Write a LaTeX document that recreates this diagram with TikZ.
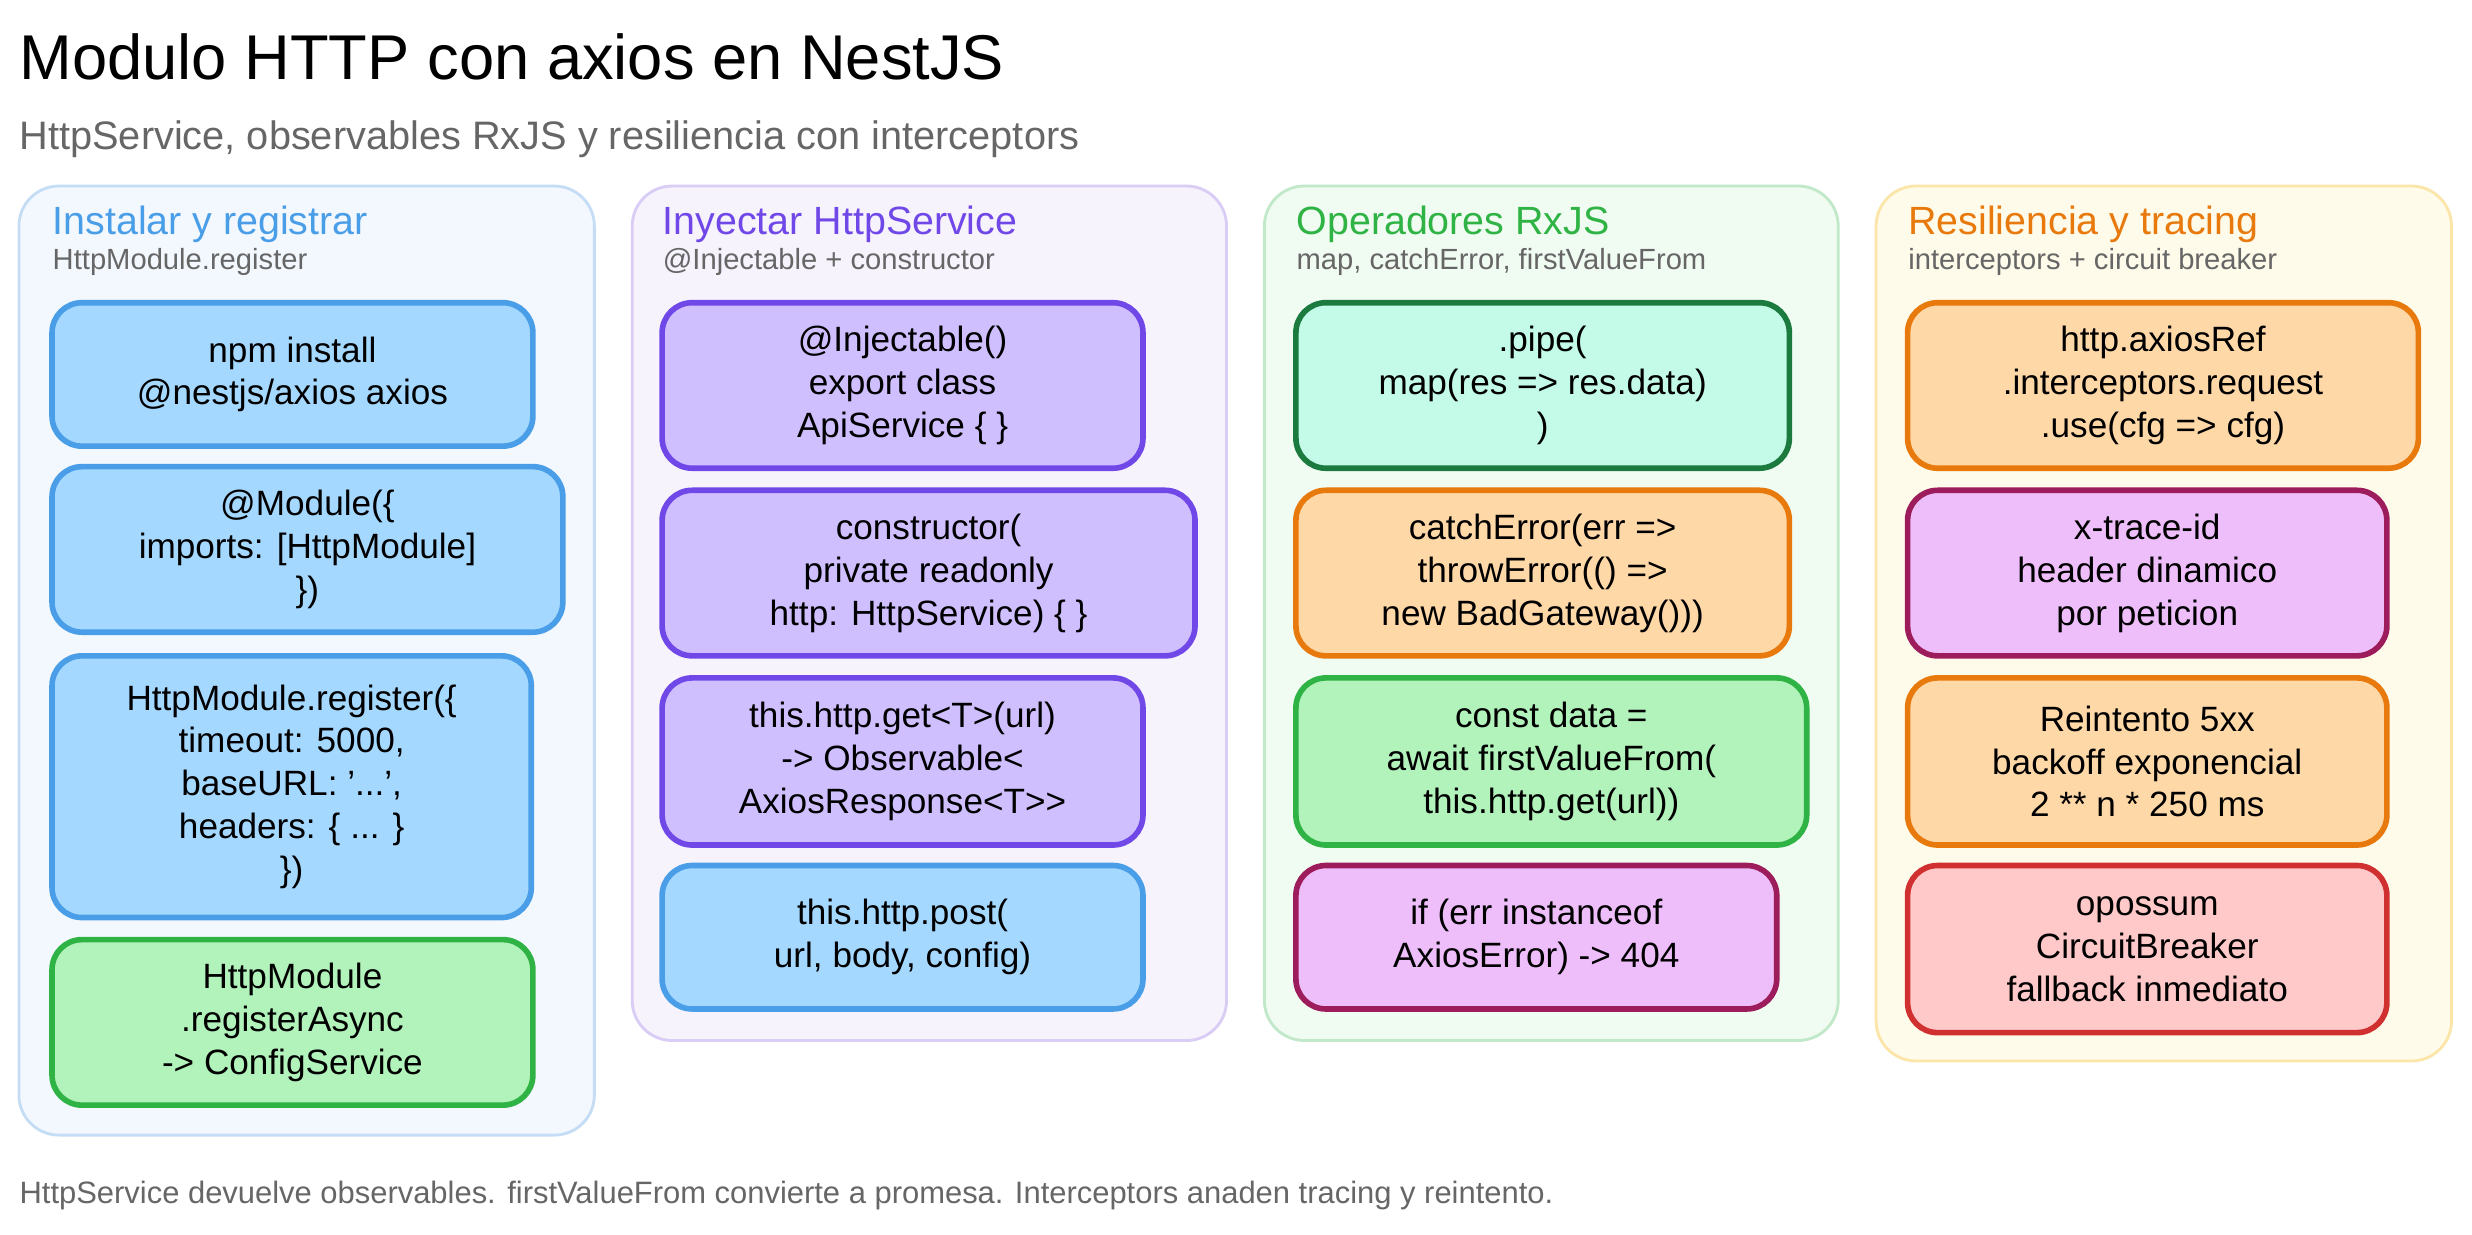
\documentclass[tikz,border=0pt]{standalone}
\usepackage{fontspec}
\setmainfont{Liberation Sans}
\usetikzlibrary{fit}

\definecolor{bluefill}{HTML}{A5D8FF}\definecolor{blueline}{HTML}{4A9EE8}
\definecolor{greenfill}{HTML}{B2F2BB}\definecolor{greenline}{HTML}{2FB344}
\definecolor{purplefill}{HTML}{D0BFFF}\definecolor{purpleline}{HTML}{7048E8}
\definecolor{tealfill}{HTML}{C3FAE8}\definecolor{tealline}{HTML}{1B7A3E}
\definecolor{orangefill}{HTML}{FFD8A8}\definecolor{orangeline}{HTML}{E8790C}
\definecolor{pinkfill}{HTML}{EEBEFA}\definecolor{pinkline}{HTML}{9C1C5C}
\definecolor{redfill}{HTML}{FFC9C9}\definecolor{redline}{HTML}{D03030}
\definecolor{graytext}{HTML}{666666}
\definecolor{panelblue}{HTML}{F3F8FF}\definecolor{panelblueline}{HTML}{C5DCF5}
\definecolor{panelviolet}{HTML}{F6F3FD}\definecolor{panelvioletline}{HTML}{D9CCF5}
\definecolor{panelgreen}{HTML}{F0FBF2}\definecolor{panelgreenline}{HTML}{C1E8C9}
\definecolor{panelyellow}{HTML}{FFFBEA}\definecolor{panelyellowline}{HTML}{FBE5A8}

\tikzset{
  card/.style 2 args={draw=#2, fill=#1, line width=1.6pt, rounded corners=0.3cm, inner sep=0pt},
  cardtext/.style={align=center, inner sep=0pt, font=\fontsize{10}{12.2}\selectfont},
  panel/.style 2 args={draw=#2, fill=#1, line width=0.8pt, rounded corners=0.4cm, inner sep=0pt},
  head/.style={anchor=west, inner sep=0pt, font=\fontsize{11.2}{13}\selectfont},
  sub/.style={anchor=west, inner sep=0pt, text=graytext, font=\fontsize{8.3}{10}\selectfont}
}
% \card{name}{fill}{line}{corner a}{corner b}{text}
\newcommand\card[6]{%
  \node[card={#2}{#3}, fit={#4 #5}] (#1) {};
  \node[cardtext] at (#1.center) {#6};}

\begin{document}
\begin{tikzpicture}[x=0.015765cm, y=-0.015765cm]
\useasboundingbox[fill=white] (0,0) rectangle (1568,783);

\node[anchor=west, inner sep=0pt, font=\fontsize{18}{21}\selectfont] (title) at (12,36) {Modulo HTTP con axios en NestJS};
\node[anchor=west, inner sep=0pt, text=graytext, font=\fontsize{11.3}{13}\selectfont] (subtitle) at (12,88) {HttpService, observables RxJS y resiliencia con interceptors};
\node[anchor=west, inner sep=0pt, text=graytext, font=\fontsize{8.8}{10}\selectfont] (footer) at (12,758) {HttpService devuelve observables. firstValueFrom convierte a promesa. Interceptors anaden tracing y reintento.};

% panels
\node[panel={panelblue}{panelblueline}, fit={(12,118) (377,720)}] (install) {};
\node[panel={panelviolet}{panelvioletline}, fit={(401,118) (778,660)}] (inject) {};
\node[panel={panelgreen}{panelgreenline}, fit={(802,118) (1166,660)}] (rxjs) {};
\node[panel={panelyellow}{panelyellowline}, fit={(1190,118) (1555,673)}] (resil) {};

\node[head, text=blueline] at (33,142) {Instalar y registrar};
\node[sub] at (33,166) {HttpModule.register};
\node[head, text=purpleline] at (420,142) {Inyectar HttpService};
\node[sub] at (420,166) {@Injectable + constructor};
\node[head, text=greenline] at (822,142) {Operadores RxJS};
\node[sub] at (822,166) {map, catchError, firstValueFrom};
\node[head, text=orangeline] at (1210,142) {Resiliencia y tracing};
\node[sub] at (1210,166) {interceptors + circuit breaker};

% column 1
\card{npm}{bluefill}{blueline}{(33,192)}{(338,283)}{npm install\\@nestjs/axios axios}
\card{module}{bluefill}{blueline}{(33,296)}{(357,401)}{@Module(\{\\imports: [HttpModule]\\\})}
\card{register}{bluefill}{blueline}{(33,416)}{(337,582)}{HttpModule.register(\{\\timeout: 5000,\\baseURL: '...',\\headers: \{ ... \}\\\})}
\card{async}{greenfill}{greenline}{(33,596)}{(338,701)}{HttpModule\\.registerAsync\\-> ConfigService}

% column 2
\card{injectable}{purplefill}{purpleline}{(420,192)}{(725,297)}{@Injectable()\\export class\\ApiService \{ \}}
\card{ctor}{purplefill}{purpleline}{(420,311)}{(758,416)}{constructor(\\private readonly\\http: HttpService) \{ \}}
\card{get}{purplefill}{purpleline}{(420,430)}{(725,536)}{this.http.get<T>(url)\\-> Observable<\\AxiosResponse<T>{}>}
\card{post}{bluefill}{blueline}{(420,549)}{(725,640)}{this.http.post(\\url, body, config)}

% column 3
\card{pipe}{tealfill}{tealline}{(822,192)}{(1135,297)}{.pipe(\\map(res => res.data)\\)}
\card{catch}{orangefill}{orangeline}{(822,311)}{(1135,416)}{catchError(err =>\\throwError(() =>\\new BadGateway()))}
\card{first}{greenfill}{greenline}{(822,430)}{(1146,536)}{const data =\\await firstValueFrom(\\this.http.get(url))}
\card{axerr}{pinkfill}{pinkline}{(822,549)}{(1127,640)}{if (err instanceof\\AxiosError) -> 404}

% column 4
\card{axref}{orangefill}{orangeline}{(1210,192)}{(1534,297)}{http.axiosRef\\.interceptors.request\\.use(cfg => cfg)}
\card{trace}{pinkfill}{pinkline}{(1210,311)}{(1514,416)}{x-trace-id\\header dinamico\\por peticion}
\card{retry}{orangefill}{orangeline}{(1210,430)}{(1514,536)}{Reintento 5xx\\backoff exponencial\\2 ** n * 250 ms}
\card{breaker}{redfill}{redline}{(1210,549)}{(1514,655)}{opossum\\CircuitBreaker\\fallback inmediato}
\end{tikzpicture}
\end{document}
